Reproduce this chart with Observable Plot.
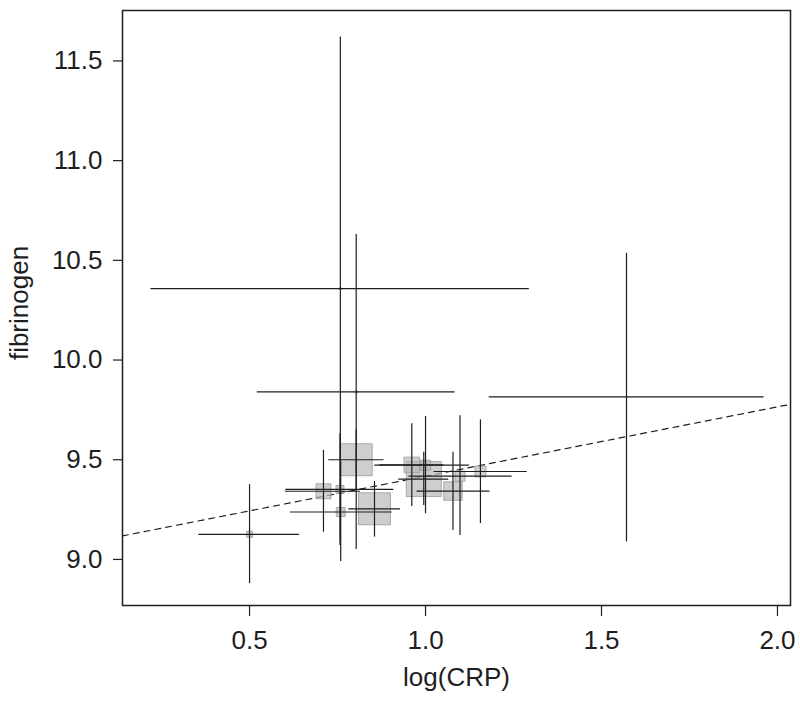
<!DOCTYPE html>
<html>
<head>
<meta charset="utf-8">
<script src="https://cdn.jsdelivr.net/npm/d3@7"></script>
<script src="https://cdn.jsdelivr.net/npm/@observablehq/plot@0.6"></script>
<style>
  html, body { margin: 0; padding: 0; background: #fff; overflow: hidden; }
  #chart svg { display: block; }
</style>
</head>
<body>
<div id="chart"></div>
<script>
// Study estimates: log(CRP) and fibrinogen with their confidence limits
const logCRP      = [0.500, 0.758, 0.803, 1.571, 0.803, 0.855, 0.759, 0.757, 0.710, 0.961, 1.000, 0.995, 1.078, 1.098, 1.156];
const logCRPLow   = [0.356, 0.220, 0.522, 1.181, 0.725, 0.782, 0.616, 0.603, 0.602, 0.870, 0.856, 0.924, 0.976, 0.953, 1.024];
const logCRPHigh  = [0.642, 1.295, 1.084, 1.962, 0.882, 0.929, 0.905, 0.910, 0.815, 1.052, 1.125, 1.066, 1.183, 1.246, 1.289];
const fibrinogen     = [9.126, 10.358, 9.840, 9.815, 9.500, 9.254, 9.238, 9.351, 9.342, 9.474, 9.473, 9.403, 9.343, 9.418, 9.441];
const fibrinogenLow  = [8.879, 9.090, 9.050, 9.087, 9.350, 9.112, 8.990, 9.070, 9.137, 9.266, 9.229, 9.271, 9.145, 9.120, 9.180];
const fibrinogenHigh = [9.375, 11.620, 10.630, 10.536, 9.650, 9.391, 9.490, 9.630, 9.547, 9.680, 9.717, 9.538, 9.538, 9.720, 9.700];
const weight = [2.9, 0.3, 0.4, 0.1, 83.6, 83.6, 6.6, 5.2, 18.4, 20.0, 8.2, 100, 28.0, 8.2, 9.9];

// Fitted (dashed) line, endpoints at the edges of the panel
const fitX = [0.139, 2.037];
const fitY = [9.118, 9.778];

// Axis ticks
const xTicks = [0.5, 1.0, 1.5, 2.0];
const yTicks = [9.0, 9.5, 10.0, 10.5, 11.0, 11.5];

const studies = logCRP.map((x, i) => ({
  x, x1: logCRPLow[i], x2: logCRPHigh[i],
  y: fibrinogen[i], y1: fibrinogenLow[i], y2: fibrinogenHigh[i],
  w: weight[i]
}));
const fit = fitX.map((x, i) => ({x, y: fitY[i]}));

const ink = "#1e1e1e";
const fs = 26;

const chart = Plot.plot({
  width: 800,
  height: 701,
  marginLeft: 122,
  marginRight: 10,
  marginTop: 10,
  marginBottom: 96,
  style: {fontFamily: "'Liberation Sans', Arial, Helvetica, sans-serif", fontSize: fs + "px", background: "#fff", color: ink},
  x: {domain: [0.139, 2.037]},
  y: {domain: [8.769, 11.753]},
  r: {type: "sqrt", domain: [0, 100], range: [0, 19.75]},
  marks: [
    Plot.line(fit, {x: "x", y: "y", stroke: ink, strokeWidth: 1.2, strokeDasharray: "6,5", clip: true}),
    Plot.dot(studies, {x: "x", y: "y", r: "w", symbol: "square", fill: "#b9b9b9", fillOpacity: 0.7, stroke: "#9a9a9a", strokeOpacity: 0.8, strokeWidth: 1}),
    Plot.ruleX(studies, {x: "x", y1: "y1", y2: "y2", stroke: ink, strokeWidth: 1.2}),
    Plot.ruleY(studies, {y: "y", x1: "x1", x2: "x2", stroke: ink, strokeWidth: 1.2}),
    Plot.frame({stroke: ink, strokeWidth: 1.5}),
    Plot.axisX({ticks: xTicks, tickSize: 11, tickPadding: 14, tickFormat: d3.format(".1f"), label: null, fontSize: fs, stroke: ink, strokeWidth: 1.2}),
    Plot.axisY({ticks: yTicks, tickSize: 9, tickPadding: 11, tickFormat: d3.format(".1f"), label: null, fontSize: fs, stroke: ink, strokeWidth: 1.2}),
    Plot.text(["log(CRP)"], {text: d => d, frameAnchor: "bottom", dy: 72, textAnchor: "middle", lineAnchor: "middle", fontSize: fs, fill: ink}),
    Plot.text(["fibrinogen"], {text: d => d, frameAnchor: "left", dx: -103, dy: -5, rotate: -90, textAnchor: "middle", lineAnchor: "middle", fontSize: fs, fill: ink})
  ]
});

document.getElementById("chart").appendChild(chart);
</script>
</body>
</html>
